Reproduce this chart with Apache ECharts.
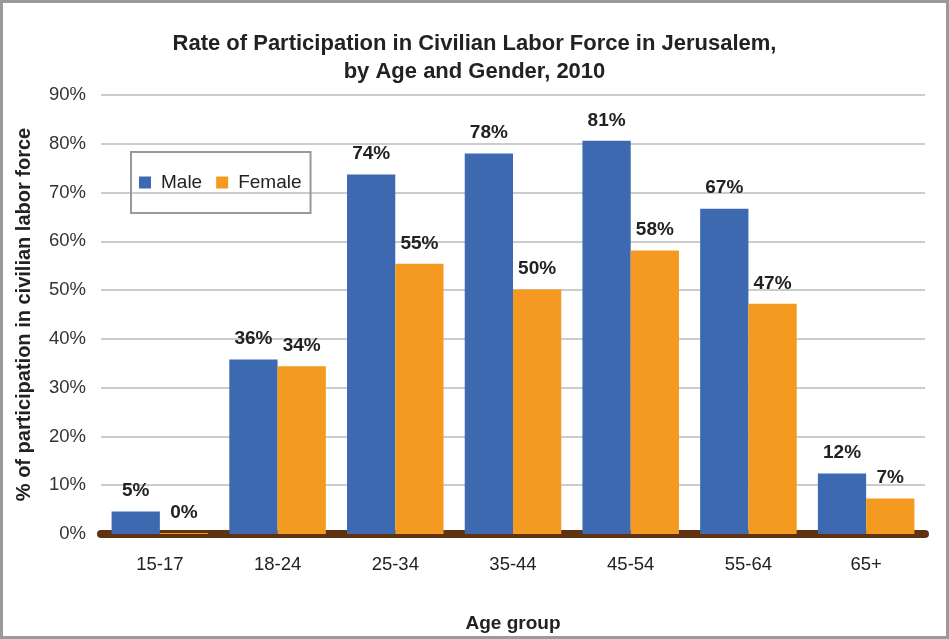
<!DOCTYPE html>
<html><head><meta charset="utf-8">
<script src="https://cdn.jsdelivr.net/npm/echarts@6/dist/echarts.min.js"></script>
<style>html,body{margin:0;padding:0;background:#fff}#c{width:949px;height:639px}</style>
</head><body><div id="c"></div>
<script>
var categories = ['15-17','18-24','25-34','35-44','45-54','55-64','65+'];
var maleValues = [4.6, 35.8, 73.7, 78.0, 80.6, 66.7, 12.4];
var femaleValues = [0.2, 34.4, 55.4, 50.1, 58.1, 47.2, 7.3];
var yTicks = [0,10,20,30,40,50,60,70,80,90];

var chart = echarts.init(document.getElementById('c'));
var labelStyle = {show:true, position:'top', distance:11, fontSize:19, fontWeight:'bold', color:'#222', fontFamily:'Liberation Sans',
  formatter:function(p){return Math.round(p.value)+'%';}};
chart.setOption({
  animation:false,
  textStyle:{fontFamily:'Liberation Sans'},
  graphic:[{type:'rect', shape:{x:1.5,y:1.5,width:946,height:636}, style:{fill:'none', stroke:'#9a9a9a', lineWidth:3}, silent:true}],
  title:{text:'Rate of Participation in Civilian Labor Force in Jerusalem,\nby Age and Gender, 2010', left:'center', top:25,
    textStyle:{fontSize:22, fontWeight:'bold', color:'#222', lineHeight:28, fontFamily:'Liberation Sans'}},
  legend:{data:['Male','Female'], left:131, top:152, orient:'horizontal', itemWidth:12, itemHeight:12, itemGap:14,
    padding:[21,9,21,8], borderColor:'#999', borderWidth:2, icon:'rect',
    textStyle:{fontSize:19, color:'#222', padding:[0,0,0,5]}},
  grid:{left:101, right:24, top:95, bottom:105},
  xAxis:{type:'category', data:categories, name:'Age group', nameLocation:'middle', nameGap:80,
    nameTextStyle:{fontSize:19, fontWeight:'bold', color:'#222'},
    axisLine:{lineStyle:{color:'#5f3311', width:8, cap:'round'}}, axisTick:{show:false},
    axisLabel:{fontSize:18.5, color:'#222', margin:21}},
  yAxis:{type:'value', min:0, max:90, interval:10, name:'% of participation in civilian labor force', nameLocation:'middle', nameGap:67,
    nameTextStyle:{fontSize:20, fontWeight:'bold', color:'#222'},
    axisLabel:{formatter:'{value}%', fontSize:18.5, color:'#333', margin:15},
    splitLine:{lineStyle:{color:'#cccccc', width:2}}},
  series:[
    {name:'Male', type:'bar', data:maleValues, barGap:'0%', barCategoryGap:'18%', itemStyle:{color:'#3d69b1'}, label:labelStyle},
    {name:'Female', type:'bar', data:femaleValues, barGap:'0%', barCategoryGap:'18%', itemStyle:{color:'#f59a20'}, label:labelStyle}
  ]
});
</script></body></html>
